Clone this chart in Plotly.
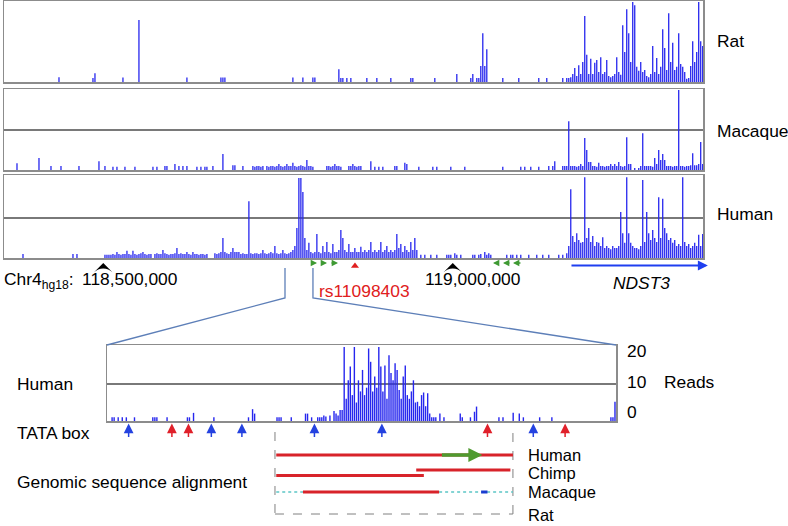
import plotly.graph_objects as go

# ---------------------------------------------------------------- data
# upper tracks: fixed-step coverage (reads) over chr4 (hg18), positions in kb
UP_START_KB = 118358.0
UP_STEP_KB = 2.86
UP_NBINS = 350
UP_VIEW_KB = [118358.0, 119358.0]

rat_bins = [27, 44, 45, 59, 67, 91, 108, 109, 110, 144, 149, 154, 155, 167, 168, 169, 171, 173,
            181, 186, 193, 203, 204, 215, 226, 233, 234, 236, 237, 238, 239, 240, 241, 249, 257,
            267, 271, 279, 281]
rat_reads = [1.2, 1.0, 2.2, 1.1, 15.5, 1.1, 1.1, 1.1, 1.1, 1.1, 1.1, 1.1, 1.1, 3.2, 1.0, 1.0, 1.0, 1.0,
             1.0, 1.0, 1.0, 1.0, 1.0, 1.0, 2.0, 1.0, 2.0, 1.0, 1.0, 4.0, 12.2, 4.0, 8.2, 1.0, 1.0,
             1.0, 1.0, 1.0, 1.0]
rat_run_start = 282
rat_run = [1, 1.2, 2, 3.5, 1.5, 4.2, 2, 5, 16.5, 6.8,
           2, 5.8, 2, 4.8, 5.5, 2.5, 6.2, 2, 2.5, 5.5,
           1.5, 1.2, 1.5, 2, 6.2, 2.5, 1.8, 14.2, 7.5, 18.2,
           12.2, 5, 20, 19.2, 3.8, 2.8, 5, 2.5, 3, 1.5,
           1.2, 2, 9, 2.5, 6, 2, 3.8, 13.2, 8.5, 3,
           17.2, 5, 9.8, 3, 3.8, 12.2, 4.5, 3.8, 2.5, 0.8,
           1, 4, 10.2, 5, 7.5, 20, 10.2, 9]

mac_bins = [6, 17, 23, 28, 37, 47, 50, 54, 56, 60, 65, 74, 76, 80, 81, 85, 87, 89, 91, 96, 98, 100,
            101, 104, 109, 114, 115, 119,
            183, 185, 187, 189, 195, 196, 200, 201, 207, 214, 216, 223, 230, 249, 258, 260, 263,
            267, 272, 274, 275, 279, 280, 281]
mac_reads = [1.7, 3, 1, 1, 1, 2.2, 1, 0.8, 0.8, 0.8, 0.8, 0.8, 0.8, 1, 1, 1.5, 1, 1, 1, 0.8, 0.8, 0.8,
             0.8, 1, 4, 1.2, 1.2, 1,
             2.2, 0.8, 0.8, 0.8, 1, 1, 1.8, 1.5, 0.8, 0.8, 0.8, 0.8, 0.8, 0.8, 0.8, 0.8, 0.8,
             0.8, 1, 1, 2.2, 1, 1, 1]
mac_run1_start = 124
mac_run1 = [1, 0.8, 1, 1, 0.8, 1, 0, 1, 0.8, 1, 1, 0.8, 1,
            1.5, 1, 0.8, 1, 1.5, 1, 1, 1.8, 1, 0.8, 1, 1.2, 1, 0.8, 2.5, 1, 1, 0.8,
            0, 0, 0, 0, 0, 0, 1, 1, 0.8, 1, 1.5, 1, 1, 0.8, 0, 0, 0, 1, 1, 1.5, 1, 0.8, 1, 1]
mac_run2_start = 282
mac_run2 = [12.2, 1, 1, 1, 0.8, 1, 1.5, 1, 8, 5,
            2, 2, 1, 1, 0.8, 1.8, 1, 1, 0.8, 1,
            1, 1.5, 1, 1.5, 1, 2, 1, 0.8, 1, 8.2,
            1.5, 1.5, 0, 0.5, 0, 0.5, 1, 9.2, 1, 1,
            1, 1, 0.8, 3, 1.5, 5, 2.5, 4, 2.5, 1,
            1, 1, 0.8, 1, 1, 20, 1, 1, 0.8, 1,
            1, 1.2, 4.2, 1.2, 1.2, 1.5, 7, 1.5]

hum_bins = [9, 34, 36, 50, 51, 52, 53,
            208, 210, 213, 216, 221, 222, 223, 225, 226, 228, 234, 235, 237, 238, 240, 241, 242,
            243, 251, 253, 254, 256, 258, 262, 266, 269, 272, 277, 279]
hum_reads = [1, 1, 1, 0.8, 0.8, 0.8, 0.8,
             0.8, 0.8, 0.8, 0.8, 0.8, 0.8, 0.8, 1.2, 0.8, 0.8, 0.8, 0.8, 0.8, 1, 1.5, 0.8, 1.2,
             0.8, 0.8, 0.8, 0.8, 0.8, 0.8, 0.8, 0.8, 0.8, 0.8, 0.8, 0.8]
hum_run1_start = 54
hum_run1 = [1, 0.8, 1.5, 1, 0.8, 1, 1, 1.8, 1, 0.8,
            1.8, 1, 0.8, 1, 1.2, 1.5, 1, 0.8, 1, 1,
            0, 1, 1.2, 1, 1, 2, 1.2, 1, 0.8, 1,
            1, 1.2, 2.5, 1, 1.2, 1, 1, 1.5, 1, 0.8,
            1.5, 1, 1, 0.8, 1, 1, 0.8, 1]
hum_run2_start = 105
hum_run2 = [1.2, 1, 1.2, 1.5, 5, 1.5, 1.2, 1, 1.5, 2.5, 1.5, 1.5, 1.5, 1, 1.2, 1, 1]
hum_run3_start = 122
hum_run3 = [14.2, 1.2, 1, 1.2, 1.2, 1, 1.2, 2, 1.2, 1,
            1.2, 1.5, 1.2, 3, 1.2, 1, 1.2, 2, 1.2, 1,
            1.2, 1.5, 2, 3, 7.5, 20, 20, 16.5, 5, 2,
            3.8, 1.5, 1.2, 1.5, 6, 1.5, 1.2, 3, 1.5, 4,
            1.5, 1.2, 3.5, 1.5, 1.5, 2, 7, 5, 2, 1.5,
            3.5, 1.5, 1.5, 2.5, 1.5, 1.5, 2.8]
hum_run4_start = 179
hum_run4 = [1.5, 2, 1.5, 2, 4, 1.5, 2, 1.5, 2, 4,
            1.5, 2, 3, 1.5, 2, 1.5, 2, 6, 2.5, 3.5,
            1.5, 3, 2, 1.5, 4, 2, 5, 2]
hum_run5_start = 281
hum_run5 = [1.2, 3, 17.2, 5.5, 4, 6.2, 4.5, 3.8, 4, 20.2,
            5, 7.5, 4, 5.5, 3, 4, 3.8, 3, 5.2, 2.5,
            3, 2.5, 2.2, 3, 2.5, 2.5, 3, 11.5, 6.2, 3.8,
            20.2, 6.2, 3.8, 3, 2.5, 2.5, 2.2, 3, 19.5, 4,
            11.5, 6.2, 4.5, 7, 5, 4, 15.2, 5, 14.8, 7.5,
            6.2, 4.5, 5, 3.8, 4.5, 3, 3.5, 3, 20.2, 4,
            3, 3.5, 2.5, 3, 3.8, 3, 5.8, 3, 6]

# zoomed human track: fixed-step coverage over 118,760-118,800 kb
LOW_START_KB = 118760.0
LOW_STEP_KB = 0.16
LOW_NBINS = 250
low_bins = [2, 3, 5, 7, 9, 13, 22, 23, 24, 29, 39, 40, 42, 52, 69, 71, 72, 83, 84, 85, 90, 97, 98,
            100, 103, 104, 105, 106, 107, 109, 111, 112, 113,
            163, 165, 173, 174, 178, 180, 181, 192, 194, 199, 202, 204, 212, 218, 247, 248, 249]
low_reads = [1, 1, 1, 1, 1, 1, 1, 1, 1, 1, 1, 1, 2.2, 1, 1, 3.2, 2, 1, 1, 1, 1, 2, 2,
             1, 1, 1, 1, 1.5, 1.2, 1.5, 2.7, 2, 1.5,
             2, 1, 2, 1, 1, 2.5, 3.9, 1, 1, 2.2, 2, 1, 1, 1, 1, 1, 5.2]
low_run_start = 114
low_run = [3, 3, 20, 6, 11, 14.7, 7, 20, 5, 11,
           8, 13.8, 7, 9, 19.6, 16, 8, 12, 9, 20,
           14.7, 8, 15, 6, 17.8, 13, 11, 15.6, 13.8, 8.4,
           6, 12, 15, 7, 6, 8, 11, 5, 5.2, 4,
           7, 7.7, 4, 7.5, 2, 1, 1, 1]

# features (kb)
coord_ticks_kb = [118500, 119000]
coord_tick_labels = ["118,500,000", "119,000,000"]
snp_kb = 118860.1
snp_label = "rs11098403"
green_fwd_kb = [(118795.8, 118805.8), (118810.1, 118820.1), (118824.4, 118835.8)]
green_rev_kb = [(119067.6, 119057.6), (119083.3, 119071.9), (119099.0, 119086.2)]
ndst3_kb = (119167.7, 119365.0)
zoom_kb = (118760.0, 118800.0)
tata_blue_kb = [118761.7, 118768.2, 118770.6, 118776.3, 118781.6, 118793.5]
tata_red_kb = [118765.1, 118766.4, 118789.9, 118796.0]
align_box_kb = (118773.2, 118791.9)
align_human_kb = (118773.3, 118791.9)
align_human_element_kb = (118786.2, 118789.5)
align_chimp_kb = [(118784.3, 118791.7), (118773.3, 118784.9)]
align_macaque_kb = (118775.4, 118786.1)
align_macaque_gap_kb = [(118773.3, 118775.4), (118786.1, 118791.9)]
align_macaque_blue_kb = (118789.4, 118789.9)

# ---------------------------------------------------------------- helpers
W, H = 788, 526
FONT = "Liberation Sans, Arial, Helvetica, sans-serif"
FS = 17.4
BLUE = "rgb(38,38,238)"
FRAME = "#8c8c8c"


def px_x(p):
    return p / W


def px_y(p):
    return 1 - p / H


def expand(n, bins, vals, runs):
    arr = [0.0] * n
    for b, v in zip(bins, vals):
        arr[b] = v
    for start, run in runs:
        for k, v in enumerate(run):
            arr[start + k] = v
    return arr


UP_DOM = [px_x(4), px_x(703)]
LOW_DOM = [px_x(107), px_x(616)]


def up_kb_to_paper(kb):
    return UP_DOM[0] + (kb - UP_VIEW_KB[0]) / (UP_VIEW_KB[1] - UP_VIEW_KB[0]) * (UP_DOM[1] - UP_DOM[0])


rat = expand(UP_NBINS, rat_bins, rat_reads, [(rat_run_start, rat_run)])
mac = expand(UP_NBINS, mac_bins, mac_reads, [(mac_run1_start, mac_run1), (mac_run2_start, mac_run2)])
hum = expand(UP_NBINS, hum_bins, hum_reads,
             [(hum_run1_start, hum_run1), (hum_run2_start, hum_run2), (hum_run3_start, hum_run3),
              (hum_run4_start, hum_run4), (hum_run5_start, hum_run5)])
low = expand(LOW_NBINS, low_bins, low_reads, [(low_run_start, low_run)])

up_x = [UP_START_KB + (i + 0.5) * UP_STEP_KB for i in range(UP_NBINS)]
low_x = [LOW_START_KB + (i + 0.5) * LOW_STEP_KB for i in range(LOW_NBINS)]

fig = go.Figure()


def add_track(xs, ys, xa, ya, lw):
    # each coverage bin is drawn as a vertical spike from 0 to its read count
    sx, sy = [], []
    for x, y in zip(xs, ys):
        if y > 0:
            sx += [x, x, None]
            sy += [0, y, None]
    fig.add_trace(go.Scatter(x=sx, y=sy, mode="lines", line=dict(color=BLUE, width=lw),
                             xaxis=xa, yaxis=ya, showlegend=False, hoverinfo="skip",
                             connectgaps=False))


add_track(up_x, rat, "x", "y", 1.3)
add_track(up_x, mac, "x2", "y2", 1.3)
add_track(up_x, hum, "x3", "y3", 1.3)
add_track(low_x, low, "x4", "y4", 1.4)

# coordinate ticks and SNP markers below human track
fig.add_trace(go.Scatter(x=coord_ticks_kb, y=[0.9] * 2, mode="markers", xaxis="x3", yaxis="y5",
                         marker=dict(symbol="arrow-wide", size=13, color="black"),
                         showlegend=False, hoverinfo="skip", cliponaxis=False))
fig.add_trace(go.Scatter(x=[snp_kb], y=[0.83], mode="markers", xaxis="x3", yaxis="y5",
                         marker=dict(symbol="triangle-up", size=7, color="#e02020"),
                         showlegend=False, hoverinfo="skip", cliponaxis=False))

ax_common = dict(showticklabels=False, ticks="", showgrid=False, zeroline=False,
                 showline=True, mirror=True, linecolor=FRAME, linewidth=1.5, fixedrange=True)

layout = dict(
    width=W, height=H, autosize=False,
    margin=dict(l=0, r=0, t=0, b=0, pad=0),
    paper_bgcolor="white", plot_bgcolor="white",
    font=dict(family=FONT, size=FS, color="black"),
    xaxis=dict(domain=UP_DOM, range=UP_VIEW_KB, anchor="y", **ax_common),
    yaxis=dict(domain=[px_y(82), px_y(1)], range=[0, 20.25], anchor="x", **ax_common),
    xaxis2=dict(domain=UP_DOM, range=UP_VIEW_KB, anchor="y2", **ax_common),
    yaxis2=dict(domain=[px_y(170), px_y(89)], range=[0, 20.25], anchor="x2", **ax_common),
    xaxis3=dict(domain=UP_DOM, range=UP_VIEW_KB, anchor="y3", **ax_common),
    yaxis3=dict(domain=[px_y(258), px_y(175)], range=[0, 20.75], anchor="x3", **ax_common),
    xaxis4=dict(domain=LOW_DOM, range=list(zoom_kb), anchor="y4", **ax_common),
    yaxis4=dict(domain=[px_y(421), px_y(345)], range=[0, 20.54], anchor="x4", **ax_common),
    yaxis5=dict(domain=[px_y(300), px_y(259)], range=[0, 1], anchor="x3", visible=False,
                fixedrange=True),
)
fig.update_layout(**layout)

shapes = []
# midlines (10 reads)
for xa, ya in (("x2", "y2"), ("x3", "y3"), ("x4", "y4")):
    shapes.append(dict(type="line", xref=f"{xa} domain", yref=ya, x0=0, x1=1, y0=10, y1=10,
                       line=dict(color="#4d4d4d", width=1.5), layer="below"))

# zoom connectors
zx0, zx1 = up_kb_to_paper(zoom_kb[0]), up_kb_to_paper(zoom_kb[1])
CONN = "#5d7fb8"
shapes.append(dict(type="path", xref="paper", yref="paper",
                   path=f"M{zx0},{px_y(268)} L{zx0},{px_y(298)} L{LOW_DOM[0]},{px_y(345)}",
                   line=dict(color=CONN, width=1.3)))
shapes.append(dict(type="path", xref="paper", yref="paper",
                   path=f"M{zx1},{px_y(268)} L{zx1},{px_y(298)} L{LOW_DOM[1]},{px_y(345)}",
                   line=dict(color=CONN, width=1.3)))

# alignment dashed box (open at top)
bx0, bx1 = align_box_kb
for seg in ((bx0, px_y(432), bx0, px_y(514)), (bx0, px_y(514), bx1, px_y(514)),
            (bx1, px_y(514), bx1, px_y(432))):
    shapes.append(dict(type="line", xref="x4", yref="paper", x0=seg[0], y0=seg[1], x1=seg[2],
                       y1=seg[3], line=dict(color="#808080", width=1, dash="dash")))

RED = "#d8232a"
shapes.append(dict(type="line", xref="x4", yref="paper", x0=align_human_kb[0], x1=align_human_kb[1],
                   y0=px_y(455), y1=px_y(455), line=dict(color=RED, width=3)))
for (a, b), yy in zip(align_chimp_kb, (470, 475.5)):
    shapes.append(dict(type="line", xref="x4", yref="paper", x0=a, x1=b, y0=px_y(yy), y1=px_y(yy),
                       line=dict(color=RED, width=3)))
for a, b in align_macaque_gap_kb:
    shapes.append(dict(type="line", xref="x4", yref="paper", x0=a, x1=b, y0=px_y(492), y1=px_y(492),
                       line=dict(color="#5cc6c6", width=1.3, dash="dot")))
shapes.append(dict(type="line", xref="x4", yref="paper", x0=align_macaque_kb[0], x1=align_macaque_kb[1],
                   y0=px_y(492), y1=px_y(492), line=dict(color=RED, width=3)))
shapes.append(dict(type="line", xref="x4", yref="paper", x0=align_macaque_blue_kb[0],
                   x1=align_macaque_blue_kb[1], y0=px_y(492), y1=px_y(492),
                   line=dict(color="#1a3cd0", width=3)))

fig.update_layout(shapes=shapes)

ann = []


def text(t, x, y, anchor="left", color="black", size=FS, **kw):
    ann.append(dict(text=t, x=px_x(x), y=px_y(y), xref="paper", yref="paper", xanchor=anchor,
                    yanchor="middle", showarrow=False, font=dict(color=color, size=size, family=FONT),
                    **kw))


text("Rat", 715, 41)
text("Macaque", 715, 131)
text("Human", 715, 214)
text("Chr4<sub>hg18</sub>:", 2, 280)
for kb, lab, shift in zip(coord_ticks_kb, coord_tick_labels, (-23, -30)):
    ann.append(dict(text=lab, x=kb, xref="x3", y=px_y(279), yref="paper", xanchor="left",
                    xshift=shift, yanchor="middle", showarrow=False, font=dict(size=FS)))
ann.append(dict(text=snp_label, x=snp_kb, xref="x3", y=px_y(291), yref="paper", xanchor="center",
                xshift=9.5, yanchor="middle", showarrow=False, font=dict(size=FS, color="#e02020")))
ann.append(dict(text="<i>NDST3</i>", x=(ndst3_kb[0] + ndst3_kb[1]) / 2, xref="x3", y=px_y(283),
                yref="paper", xanchor="center", xshift=3, yanchor="middle", showarrow=False,
                font=dict(size=FS)))

GREEN = "#3f9a33"
for tail, head in green_fwd_kb + green_rev_kb:
    ann.append(dict(text="", x=head, y=px_y(263), xref="x3", yref="paper", ax=tail, axref="x3",
                    ay=0, ayref="pixel", showarrow=True, arrowhead=2, arrowsize=0.9, arrowwidth=1.4,
                    arrowcolor=GREEN, standoff=0, startstandoff=0))

# NDST3 gene arrow (head beyond the view, so in paper coords)
h_paper = up_kb_to_paper(ndst3_kb[1])
t_paper = up_kb_to_paper(ndst3_kb[0])
ann.append(dict(text="", x=h_paper, y=px_y(265.5), xref="paper", yref="paper",
                ax=-(h_paper - t_paper) * W, ay=0, showarrow=True, arrowhead=2, arrowsize=1,
                arrowwidth=2, arrowcolor="#1f3ff0", standoff=0))

# lower panel labels
text("Human", 15, 384)
text("TATA box", 15, 433)
text("Genomic sequence alignment", 15, 482)
text("20", 625, 350.5)
text("10", 625, 381.5)
text("0", 625, 411.5)
text("Reads", 662, 382)
SP = 16.5
text("Human", 526, 455, size=SP)
text("Chimp", 526, 473, size=SP)
text("Macaque", 526, 492, size=SP)
text("Rat", 526, 515, size=SP)

for kbs, col in ((tata_blue_kb, "#2442e0"), (tata_red_kb, "#e0202a")):
    for kb in kbs:
        ann.append(dict(text="", x=kb, y=px_y(423.5), xref="x4", yref="paper", ax=0, ay=15,
                        showarrow=True, arrowhead=2, arrowsize=1.3, arrowwidth=1.5, arrowcolor=col,
                        standoff=0))

# conserved element arrow on the human alignment row
ann.append(dict(text="", x=align_human_element_kb[1], y=px_y(455), xref="x4", yref="paper",
                ax=align_human_element_kb[0], axref="x4", ay=0, ayref="pixel", showarrow=True,
                arrowhead=2, arrowsize=0.8, arrowwidth=3.5, arrowcolor="#4f9a2f", standoff=0))

fig.update_layout(annotations=ann)
fig.write_html("out.html", post_script="document.body.style.margin='0';",
               config={"displayModeBar": False, "staticPlot": True})
